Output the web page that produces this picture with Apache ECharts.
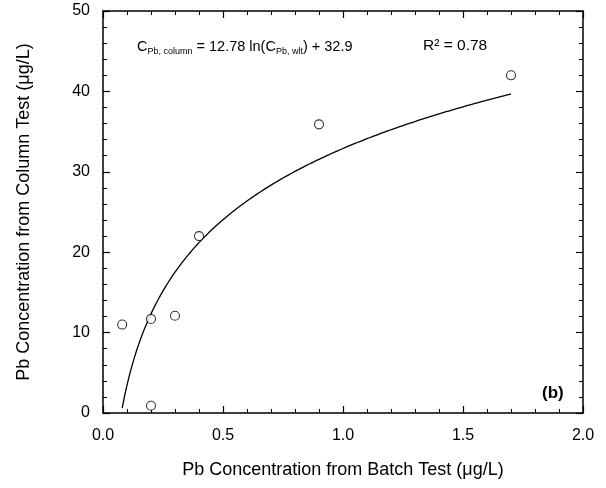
<!DOCTYPE html>
<html>
<head>
<meta charset="utf-8">
<script src="https://cdn.jsdelivr.net/npm/echarts@6/dist/echarts.min.js"></script>
<style>
  html, body { margin: 0; padding: 0; background: #fff; }
  #chart { width: 606px; height: 488px; }
</style>
</head>
<body>
<div id="chart"></div>
<script>
// Measured Pb: batch test (x) vs column test (y), µg/L
const batchPb = [0.08, 0.20, 0.20, 0.30, 0.40, 0.90, 1.70];
const columnPb = [11.0, 11.7, 0.9, 12.1, 22.0, 35.9, 42.0];

// Logarithmic fit stated on the chart: y = a ln(x) + b
const fitA = 12.78;
const fitB = 32.9;
const fitRange = [0.08, 1.70];

const xTicks = ['0.0', '0.5', '1.0', '1.5', '2.0'];
const yTicks = ['0', '10', '20', '30', '40', '50'];

const points = batchPb.map((x, i) => [x, columnPb[i]]);
const fitLine = [];
for (let k = 0; k <= 162; k++) {
  const x = fitRange[0] + (fitRange[1] - fitRange[0]) * k / 162;
  fitLine.push([x, fitA * Math.log(x) + fitB]);
}

const FONT = '"Liberation Sans", Arial, sans-serif';
const axisBase = {
  axisLine: { show: true, onZero: false, lineStyle: { color: '#000', width: 1.5 } },
  axisTick: { show: true, inside: true, length: 7, lineStyle: { color: '#000', width: 1.2 } },
  minorTick: { show: true, splitNumber: 5, length: 4, lineStyle: { color: '#000', width: 1 } },
  splitLine: { show: false },
  minorSplitLine: { show: false }
};

const chart = echarts.init(document.getElementById('chart'), null, { renderer: 'canvas' });
chart.setOption({
  animation: false,
  backgroundColor: '#fff',
  grid: { left: 103, right: 23, top: 11, bottom: 75, containLabel: false },
  xAxis: [
    Object.assign({}, axisBase, {
      type: 'value', min: 0, max: 2, interval: 0.5, position: 'bottom',
      axisLabel: { margin: 15, color: '#000', fontSize: 16, fontFamily: FONT,
        formatter: v => xTicks[Math.round(v / 0.5)] },
      name: 'Pb Concentration from Batch Test (\u03bcg/L)',
      nameLocation: 'middle', nameGap: 48,
      nameTextStyle: { color: '#000', fontSize: 18, fontFamily: FONT }
    }),
    Object.assign({}, axisBase, {
      type: 'value', min: 0, max: 2, interval: 0.5, position: 'top',
      axisLabel: { show: false }
    })
  ],
  yAxis: [
    Object.assign({}, axisBase, {
      type: 'value', min: 0, max: 50, interval: 10, position: 'left',
      axisLabel: { margin: 13, color: '#000', fontSize: 16, fontFamily: FONT,
        formatter: v => yTicks[Math.round(v / 10)] },
      name: 'Pb Concentration from Column Test (\u03bcg/L)',
      nameLocation: 'middle', nameGap: 70,
      nameTextStyle: { color: '#000', fontSize: 18, fontFamily: FONT }
    }),
    Object.assign({}, axisBase, {
      type: 'value', min: 0, max: 50, interval: 10, position: 'right',
      axisLabel: { show: false }
    })
  ],
  series: [
    {
      type: 'line', data: fitLine, showSymbol: false, smooth: false,
      lineStyle: { color: '#000', width: 1.3 }, silent: true, z: 2
    },
    {
      type: 'scatter', data: points, symbol: 'circle', symbolSize: 9,
      itemStyle: { color: '#fff', borderColor: '#000', borderWidth: 1.1 }, z: 3
    }
  ],
  graphic: [
    {
      type: 'text', left: 137, top: 37,
      style: {
        text: '{m|C}{s|Pb, column}{m| = 12.78 ln(C}{s|Pb, wlt}{m|) + 32.9}',
        rich: {
          m: { fontSize: 14.5, fontFamily: FONT, fill: '#000', lineHeight: 18 },
          s: { fontSize: 9, fontFamily: FONT, fill: '#000', padding: [10, 0, 0, 0], lineHeight: 18 }
        }
      }
    },
    {
      type: 'text', left: 423, top: 38,
      style: { text: 'R\u00b2 = 0.78', fontSize: 15.5, fontFamily: FONT, fill: '#000' }
    },
    {
      type: 'text', left: 542, top: 385,
      style: { text: '(b)', fontSize: 17, fontWeight: 'bold', fontFamily: FONT, fill: '#000' }
    }
  ]
});
</script>
</body>
</html>
